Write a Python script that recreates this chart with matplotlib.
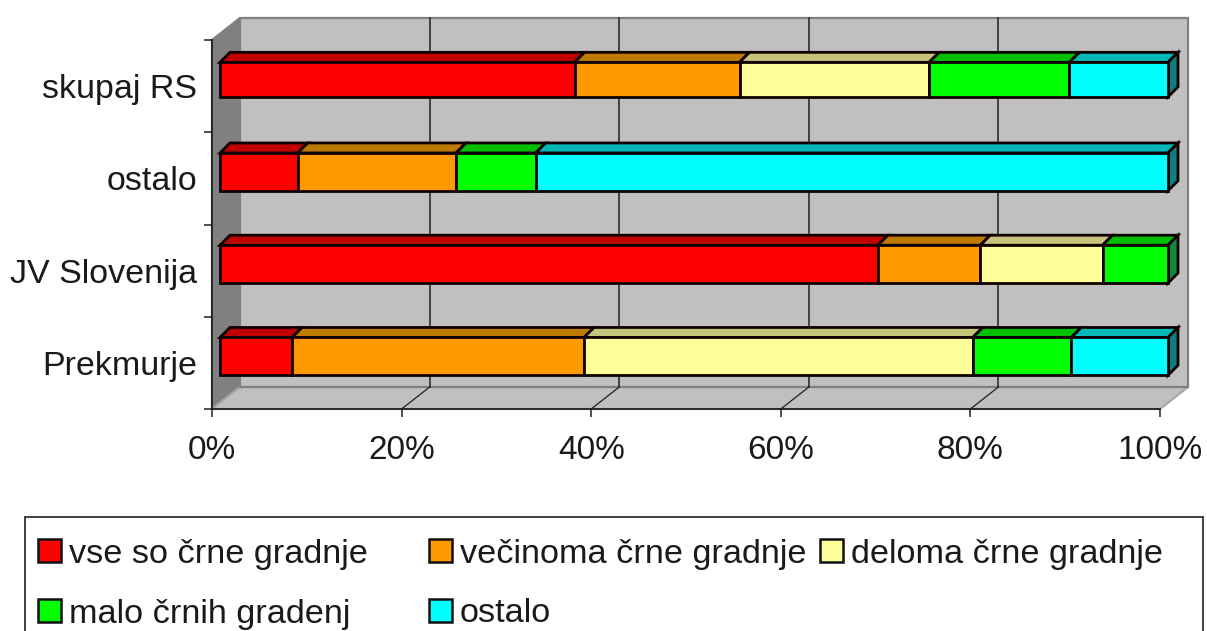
import matplotlib
matplotlib.use("Agg")
import matplotlib.pyplot as plt
from matplotlib.patches import Polygon, Rectangle
from matplotlib.transforms import Affine2D

categories = ["Prekmurje", "JV Slovenija", "ostalo", "skupaj RS"]
series_names = ["vse so črne gradnje", "večinoma črne gradnje", "deloma črne gradnje",
                "malo črnih gradenj", "ostalo"]
vse = [7.6, 69.4, 8.2, 37.4]
vecinoma = [30.8, 10.8, 16.7, 17.4]
deloma = [41.0, 12.9, 0.0, 20.0]
malo = [10.4, 6.9, 8.4, 14.8]
ostalo = [10.2, 0.0, 66.7, 10.4]
x_ticks = [0, 20, 40, 60, 80, 100]
x_labels = ["0%", "20%", "40%", "60%", "80%", "100%"]

series = [vse, vecinoma, deloma, malo, ostalo]
front = ["#FF0000", "#FF9900", "#FFFF99", "#00FF00", "#00FFFF"]
top = ["#C00000", "#BF7A00", "#C4C47A", "#00BF00", "#00B8B8"]
side = ["#A00000", "#A06000", "#A0A060", "#0E8A3A", "#0E7F80"]

W, H = 1207, 631
plt.rcParams["font.family"] = ["Liberation Sans", "DejaVu Sans"]
fig = plt.figure(figsize=(W / 100, H / 100), dpi=100)
L, R, T, B = 212, 1160, 40, 409
ax = fig.add_axes([L / W, 1 - B / H, (R - L) / W, (B - T) / H])
ax.set_xlim(0, 100)
ax.set_ylim(0, 4)
ax.patch.set_visible(False)
ppx = (R - L) / 100
ppy = (B - T) / 4
wdx, wdy = 28 / ppx, 22 / ppy

# walls
wall = dict(clip_on=False, linewidth=1.6)
ax.add_patch(Polygon([(0, 0), (wdx, wdy), (wdx, 4 + wdy), (0, 4)], fc="#808080", ec="#808080", zorder=1, **wall))
ax.add_patch(Polygon([(0, 0), (100, 0), (100 + wdx, wdy), (wdx, wdy)], fc="#C0C0C0", ec="#A8A8A8", zorder=1, **wall))
ax.add_patch(Rectangle((wdx, wdy), 100, 4, fc="#C0C0C0", ec="#808080", zorder=1, **wall))
for v in x_ticks[1:-1]:
    ax.plot([v + wdx, v + wdx], [wdy, 4 + wdy], color="#202020", lw=1.1, zorder=2, clip_on=False)
    ax.plot([v, v + wdx], [0, wdy], color="#202020", lw=0.9, zorder=2, clip_on=False)

# bars
offset = Affine2D().translate(8, 6.5)
tr = ax.transData + offset
bar_heights = [0.41, 0.41, 0.41, 0.375]
ddx, ddy = 10 / ppx, 10 / ppy
ys = [i + 0.5 for i in range(len(categories))]
left = [0.0] * len(categories)
edge = dict(edgecolor="#100000", linewidth=2.0)
for k, vals in enumerate(series):
    ax.barh(ys, vals, left=left, height=bar_heights, align="center", color=front[k],
            transform=tr, zorder=4, clip_on=False, **edge)
    for i, yc in enumerate(ys):
        if vals[i] <= 0:
            continue
        a, b = left[i], left[i] + vals[i]
        yt = yc + bar_heights[i] / 2
        ax.add_patch(Polygon([(a, yt), (b, yt), (b + ddx, yt + ddy), (a + ddx, yt + ddy)],
                             fc=top[k], transform=tr, zorder=3, clip_on=False, **edge))
        if abs(b - 100) < 0.3:
            yb = yc - bar_heights[i] / 2
            ax.add_patch(Polygon([(b, yb), (b, yt), (b + ddx, yt + ddy), (b + ddx, yb + ddy)],
                                 fc=side[k], transform=tr, zorder=3, clip_on=False, **edge))
    left = [l + v for l, v in zip(left, vals)]

# axes
for s in ("top", "right"):
    ax.spines[s].set_visible(False)
for s in ("left", "bottom"):
    ax.spines[s].set_color("#202020")
    ax.spines[s].set_linewidth(1.3)
    ax.spines[s].set_zorder(5)
ax.set_xticks(x_ticks)
ax.set_xticklabels(x_labels, fontsize=24, color="#1a1a1a")
ax.tick_params(axis="x", length=6, width=1.1, pad=13, color="#202020")
ax.set_yticks([0, 1, 2, 3, 4])
ax.set_yticklabels([])
ax.tick_params(axis="y", which="major", length=6, width=1.1, color="#202020")
ax.set_yticks([0.5, 1.5, 2.5, 3.5], minor=True)
ax.set_yticklabels(categories, minor=True, fontsize=24.5, color="#1a1a1a")
ax.tick_params(axis="y", which="minor", length=0, pad=10.5)

# legend
def px_rect(x0, y0, x1, y1, **kw):
    fig.add_artist(Rectangle((x0 / W, 1 - y1 / H), (x1 - x0) / W, (y1 - y0) / H,
                             transform=fig.transFigure, **kw))

px_rect(25, 517, 1203, 640, fc="white", ec="#303030", lw=1.3)
slots = [(38, 551), (429, 551), (820, 551), (38, 611), (429, 611)]
for (sx, sy), name, col in zip(slots, series_names, front):
    px_rect(sx, sy - 12, sx + 23, sy + 11, fc=col, ec="#101010", lw=1.8)
    fig.text((sx + 31) / W, 1 - (sy + 3) / H, name, fontsize=24.7, color="#1a1a1a",
             ha="left", va="center")

fig.savefig("out.png", dpi=100)
